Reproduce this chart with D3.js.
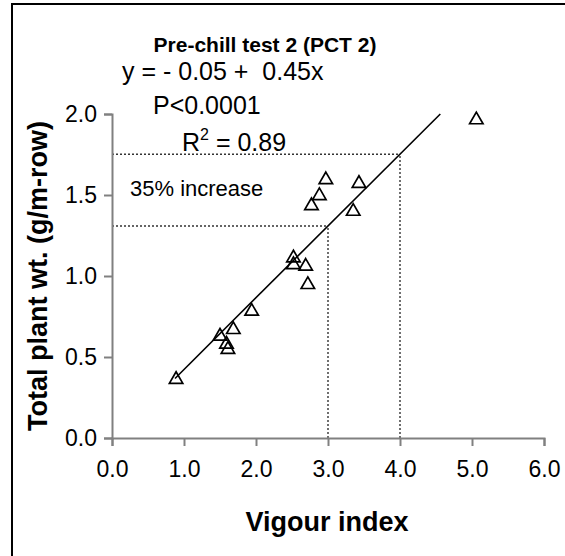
<!DOCTYPE html>
<html>
<head>
<meta charset="utf-8">
<script src="https://cdn.jsdelivr.net/npm/d3@7"></script>
<style>
  body { margin: 0; background: #fff; }
  text { font-family: "Liberation Sans", Arial, sans-serif; white-space: pre; }
</style>
</head>
<body>
<div id="chart"></div>
<script>
// Vigour index vs total plant weight, PCT 2
const vigour = [0.89, 1.50, 1.685, 1.59, 1.61, 1.94, 2.52, 2.52, 2.69, 2.72, 2.77, 2.88, 2.97, 3.35, 3.43, 5.06]
const plantWt = [0.367, 0.634, 0.675, 0.585, 0.553, 0.788, 1.117, 1.076, 1.066, 0.953, 1.44, 1.502, 1.60, 1.405, 1.577, 1.97]

// fitted line as drawn (intercept, slope) and the two reference x values
const fitCoef = [-0.02, 0.443]
const refX = [3.0, 4.0]

const xTicks = [0, 1, 2, 3, 4, 5, 6]
const yTicks = [0, 0.5, 1.0, 1.5, 2.0]

const titleText = 'Pre-chill test 2 (PCT 2)'
const statLines = ['y = - 0.05 +  0.45x', 'P<0.0001']
const increaseLabel = '35% increase'

const width = 565, height = 556
const margin = { top: 114, right: 21, bottom: 118, left: 112 }

const svg = d3.select('#chart').append('svg')
    .attr('width', width)
    .attr('height', height)

// outer frame (runs off the right/bottom edge like the source)
svg.append('rect')
    .attr('x', 12).attr('y', 4)
    .attr('width', width).attr('height', height)
    .attr('fill', 'none')
    .attr('stroke', '#000')
    .attr('stroke-width', 2)

const x = d3.scaleLinear().domain([0, 6]).range([margin.left, width - margin.right])
const y = d3.scaleLinear().domain([0, 2]).range([height - margin.bottom, margin.top])

const fit = v => fitCoef[0] + fitCoef[1] * v

// dotted guide lines
const guides = svg.append('g').attr('class', 'guides')
    .attr('stroke', '#333')
    .attr('stroke-width', 1.4)
    .attr('stroke-dasharray', '2,2')
refX.forEach(v => {
    guides.append('line')
        .attr('x1', x(v)).attr('x2', x(v))
        .attr('y1', y(0)).attr('y2', y(fit(v)))
    guides.append('line')
        .attr('x1', x(0)).attr('x2', x(v))
        .attr('y1', y(fit(v))).attr('y2', y(fit(v)))
})

// axes
const xAxis = svg.append('g')
    .attr('transform', `translate(0,${y(0)})`)
    .call(d3.axisBottom(x).tickValues(xTicks).tickFormat(d3.format('.1f')).tickSize(8).tickPadding(15))
const yAxis = svg.append('g')
    .attr('transform', `translate(${x(0)},0)`)
    .call(d3.axisLeft(y).tickValues(yTicks).tickFormat(d3.format('.1f')).tickSize(8).tickPadding(7))

;[xAxis, yAxis].forEach(a => {
    a.select('.domain').attr('stroke', '#808080').attr('stroke-width', 2)
    a.selectAll('.tick line').attr('stroke', '#808080').attr('stroke-width', 2)
    a.selectAll('.tick text').attr('font-size', 23).attr('fill', '#000')
        .style('font-family', '"Liberation Sans", Arial, sans-serif')
})

// regression line, clipped to y max
const xStart = d3.min(vigour) - 0.015
const xEnd = (2 - fitCoef[0]) / fitCoef[1]
svg.append('line')
    .attr('x1', x(xStart)).attr('y1', y(fit(xStart)))
    .attr('x2', x(xEnd)).attr('y2', y(fit(xEnd)))
    .attr('stroke', '#000')
    .attr('stroke-width', 1.6)

// triangle markers
const tri = d3.symbol().type(d3.symbolTriangle).size(78)
svg.append('g').attr('class', 'points')
    .selectAll('path')
    .data(vigour.map((v, i) => [v, plantWt[i]]))
    .join('path')
    .attr('d', tri)
    .attr('transform', d => `translate(${x(d[0])},${y(d[1]) + 1})`)
    .attr('fill', 'none')
    .attr('stroke', '#000')
    .attr('stroke-width', 1.7)

// title and stats
svg.append('text')
    .attr('x', 265).attr('y', 52)
    .attr('text-anchor', 'middle')
    .attr('font-size', 21).attr('font-weight', 'bold')
    .text(titleText)

svg.append('text').attr('x', 122).attr('y', 80).attr('font-size', 25).text(statLines[0])
svg.append('text').attr('x', 153).attr('y', 114).attr('font-size', 25).text(statLines[1])

const r2 = svg.append('text').attr('x', 182).attr('y', 151).attr('font-size', 25)
r2.append('tspan').text('R')
r2.append('tspan').attr('font-size', 16).attr('dy', -11).text('2')
r2.append('tspan').attr('dy', 11).text(' = 0.89')

svg.append('text')
    .attr('x', 130).attr('y', 196)
    .attr('font-size', 22)
    .text(increaseLabel)

// axis titles
svg.append('text')
    .attr('x', 327).attr('y', 531)
    .attr('text-anchor', 'middle')
    .attr('font-size', 27).attr('font-weight', 'bold')
    .text('Vigour index')

svg.append('text')
    .attr('transform', `translate(47,${(y(0) + y(2)) / 2}) rotate(-90)`)
    .attr('text-anchor', 'middle')
    .attr('font-size', 27).attr('font-weight', 'bold')
    .text('Total plant wt. (g/m-row)')
</script>
</body>
</html>
